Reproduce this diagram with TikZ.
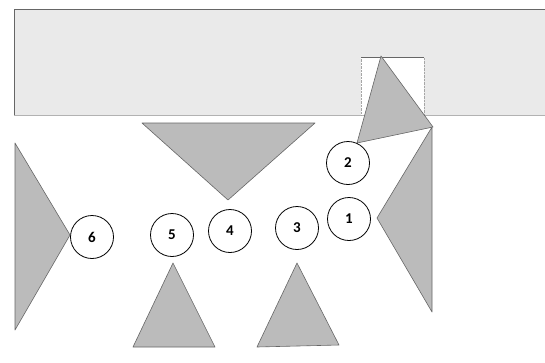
\documentclass[tikz,border=0pt]{standalone}
\usepackage{fontspec}
\setsansfont{Carlito}
\usepackage{xcolor}
\usepackage{tikz}
\usetikzlibrary{positioning}
\definecolor{bandgray}{HTML}{EAEAEA}
\definecolor{shapegray}{HTML}{BBBBBB}
\tikzstyle{numcircle} = [circle, draw=black, thick, minimum size=43pt, inner sep=0pt, font=\sffamily\bfseries\fontsize{15}{17}\selectfont]
\tikzstyle{piece} = [fill=shapegray, draw=gray!80!black, line width=0.6pt, line join=round]

\begin{document}
\begin{tikzpicture}[x=1pt, y=-1pt]
    \useasboundingbox (0,0) rectangle (545,362);
    % strip at the top
    \fill[bandgray] (14,9) rectangle (545,115);
    \draw[gray!60] (14,115) -- (545,115);
    \draw[gray!80!black, line width=0.7pt] (14,115) -- (14,9) -- (545,9);
    \draw[fill=white, draw=gray!70, densely dotted] (361,115) -- (361,57) -- (424,57) -- (424,115);
    \draw[gray!80!black, line width=0.8pt] (361,57) -- (424,57);

    % triangles
    \draw[piece] (381,56) -- (433,127) -- (357,143) -- cycle;
    \draw[piece] (142,123) -- (315,123) -- (228,200) -- cycle;
    \draw[piece] (15,143) -- (70,235) -- (15,330) -- cycle;
    \draw[piece] (432,127) -- (432,312) -- (377,218) -- cycle;
    \draw[piece] (173,263) -- (215,347) -- (133,347) -- cycle;
    \draw[piece] (297,263) -- (339,345) -- (257,347) -- cycle;

    % numbered circles
    \node (c1) [numcircle] at (349,219) {1};
    \node (c2) [numcircle] at (348,163) {2};
    \node (c3) [numcircle] at (297,228) {3};
    \node (c4) [numcircle] at (230,231) {4};
    \node (c5) [numcircle] at (172,235) {5};
    \node (c6) [numcircle] at (92,237) {6};
\end{tikzpicture}
\end{document}
